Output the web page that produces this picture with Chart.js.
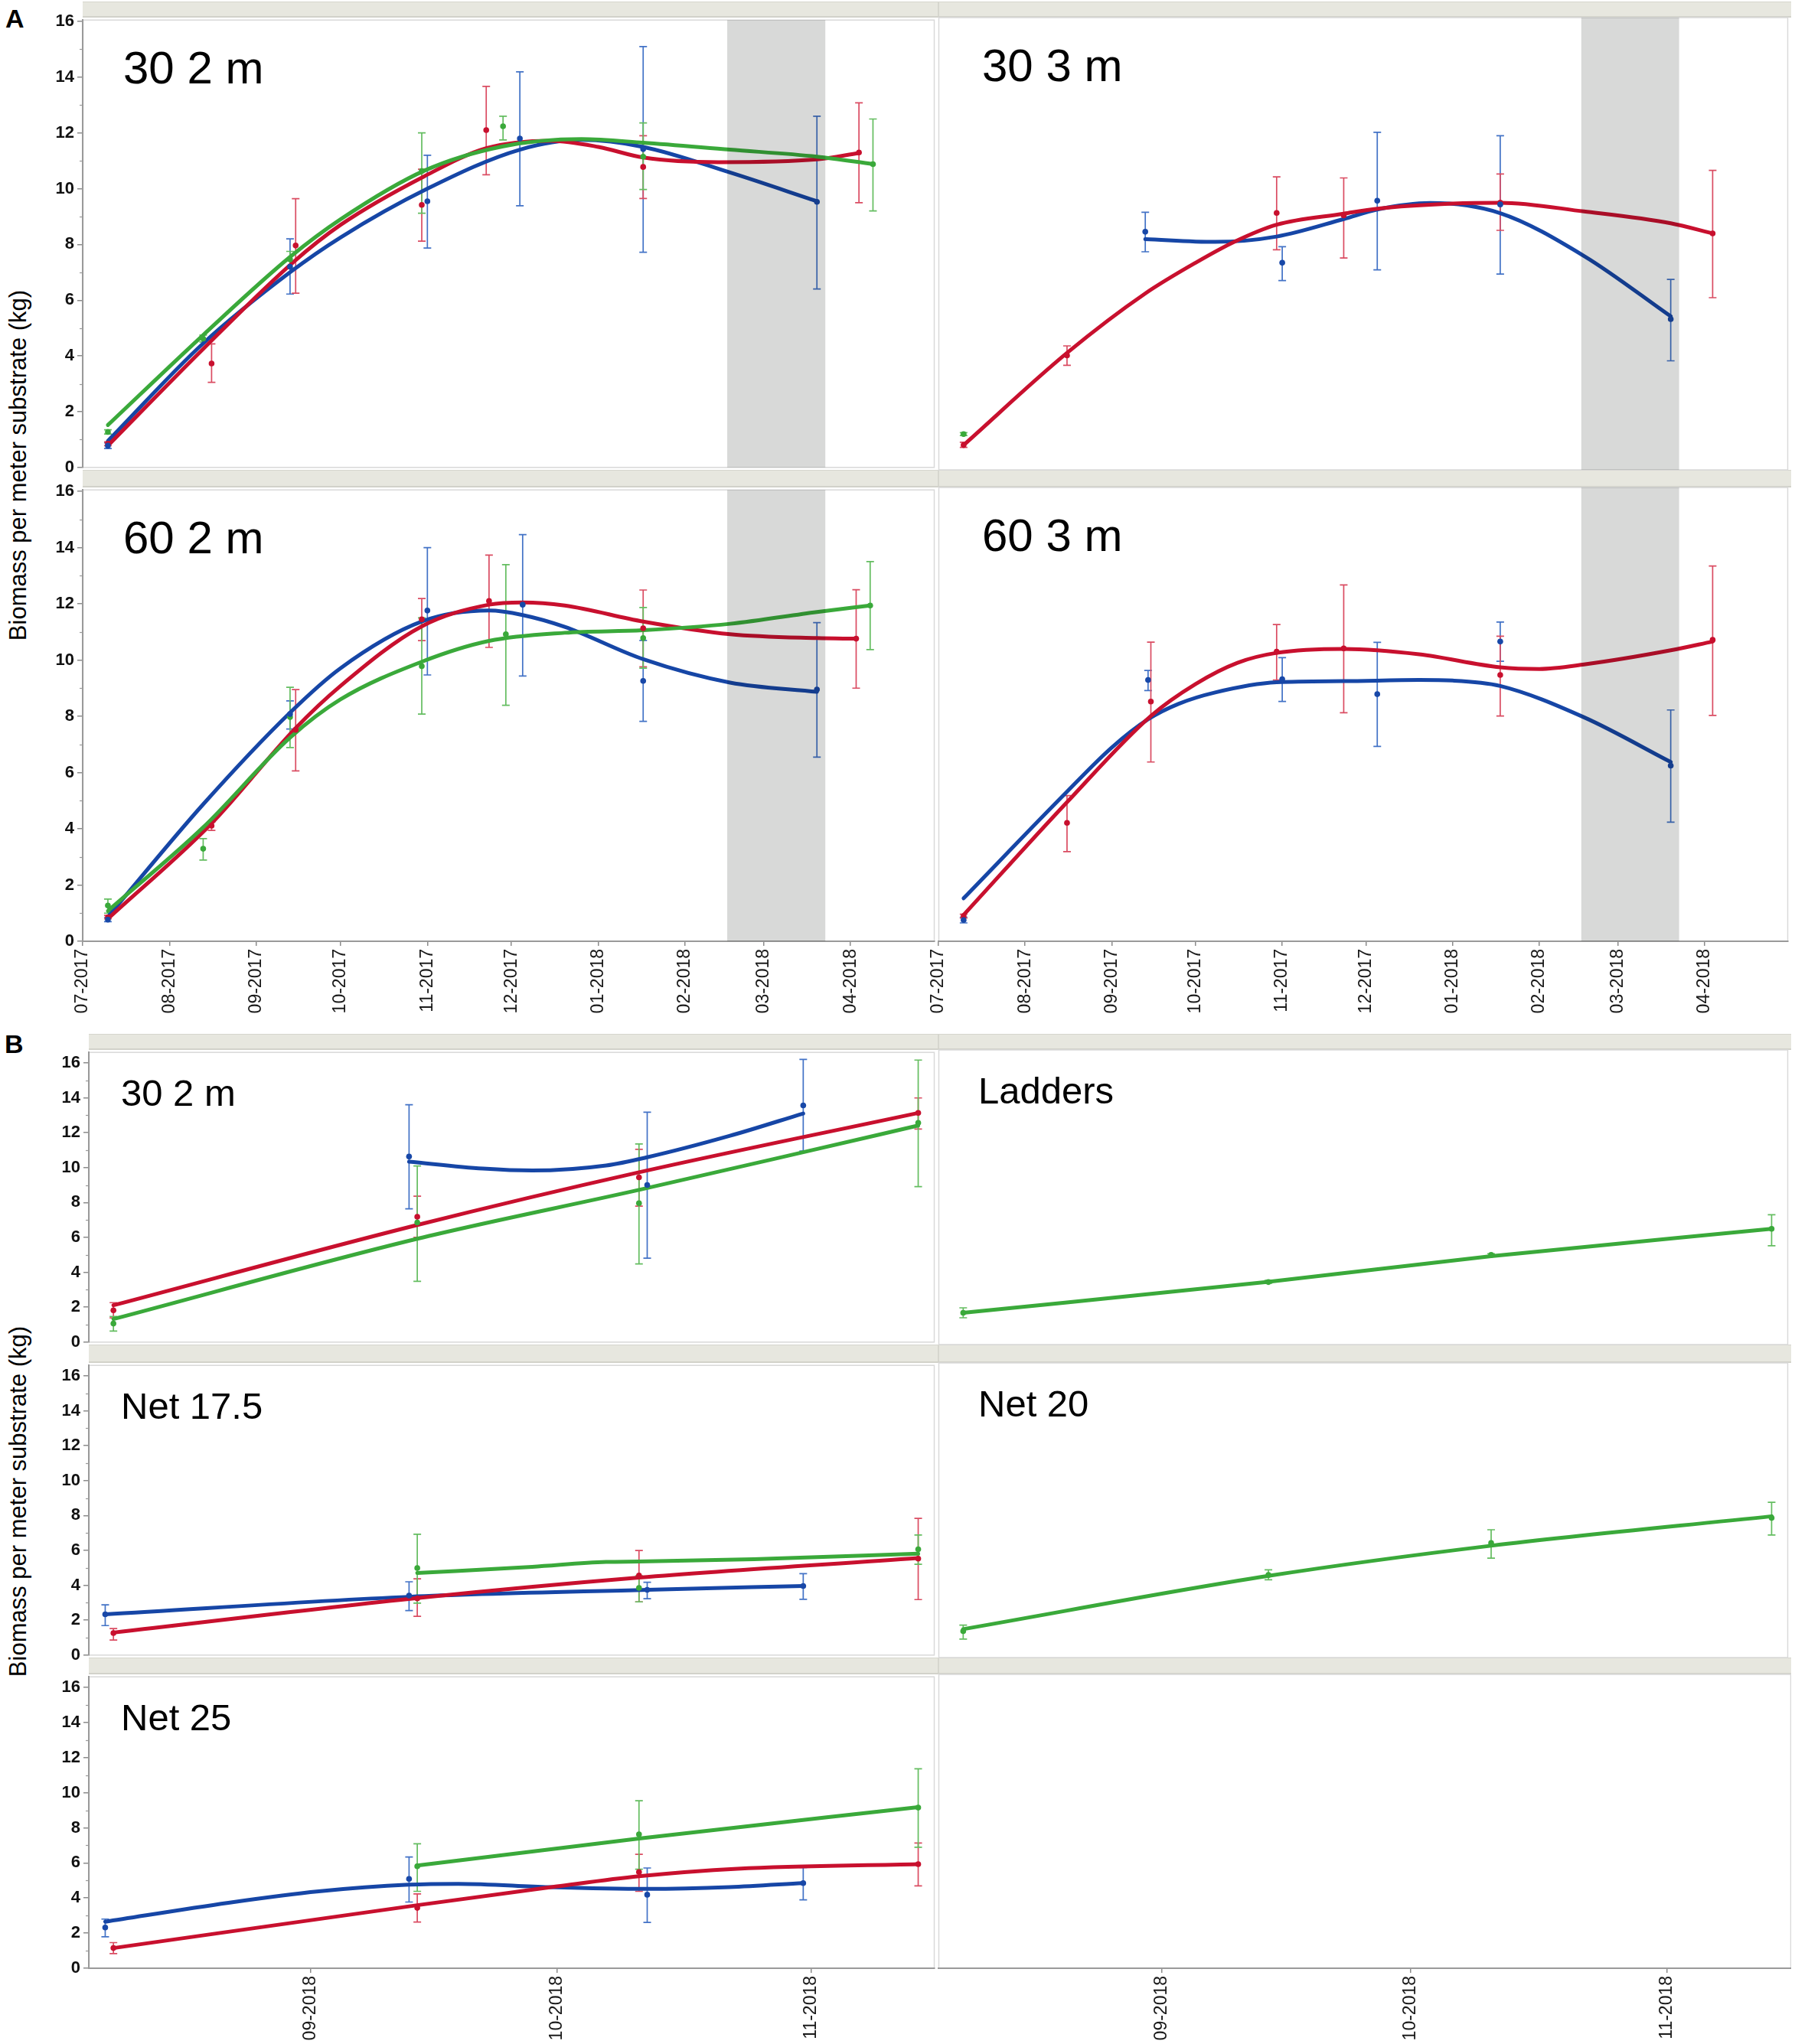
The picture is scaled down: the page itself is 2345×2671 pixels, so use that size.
<!DOCTYPE html>
<html>
<head>
<meta charset="utf-8">
<script src="https://cdn.jsdelivr.net/npm/chart.js@4.4.1/dist/chart.umd.min.js"></script>
<style>
  body { margin: 0; background: #fff; }
  #page { position: relative; width: 2345px; height: 2671px; overflow: hidden; background: #fff; font-family: 'Liberation Sans', Arial, sans-serif; }
  canvas { position: absolute; }
  .strip { position: absolute; background: #e7e7df; border-top: 1px solid #d6d6ce; border-bottom: 2px solid #d2d2ca; box-sizing: border-box; }
  .strip .cut { position: absolute; left: 0; top: 0; bottom: 0; width: 2px; background: #d6d6ce; }
  .letter { position: absolute; font-weight: bold; font-size: 34px; line-height: 1; color: #000; }
  .ytitle { position: absolute; width: 700px; height: 36px; line-height: 36px; font-size: 31px; text-align: center; color: #000; transform: rotate(-90deg); }
</style>
</head>
<body>
<div id="page">
  <div class="letter" style="left:7px;top:7px;">A</div>
  <div class="letter" style="left:6px;top:1347px;">B</div>
  <div class="ytitle" style="left:-326px;top:590px;">Biomass per meter substrate (kg)</div>
  <div class="ytitle" style="left:-326px;top:1944px;">Biomass per meter substrate (kg)</div>
</div>
<script>
const DAY = 86400000;
const dayNum = s => Date.parse(s) / DAY;

// axis ticks and ranges
const yTicks = [0, 2, 4, 6, 8, 10, 12, 14, 16];
const yMinorTicks = [1, 3, 5, 7, 9, 11, 13, 15];
const tickDatesA = ['2017-07-01', '2017-08-01', '2017-09-01', '2017-10-01', '2017-11-01', '2017-12-01', '2018-01-01', '2018-02-01', '2018-03-01', '2018-04-01'];
const tickLabelsA = ['07-2017', '08-2017', '09-2017', '10-2017', '11-2017', '12-2017', '01-2018', '02-2018', '03-2018', '04-2018'];
const tickDatesB = ['2018-09-01', '2018-10-01', '2018-11-01'];
const tickLabelsB = ['09-2018', '10-2018', '11-2018'];
const rangeA = ['2017-07-01', '2018-05-01'];
const rangeB = ['2018-08-05', '2018-11-16'];
const bandA = ['2018-02-16', '2018-03-23'];
const titlesA = ['30 2 m', '30 3 m', '60 2 m', '60 3 m'];
const titlesB = ['30 2 m', 'Ladders', 'Net 17.5', 'Net 20', 'Net 25', ''];

// points: [date, mean, lower, upper]; fits: [date, fitted value]
// A: 30 2 m
const A302_blue = [['2017-07-10', 0.78, 0.68, 0.88], ['2017-09-13', 7.2, 6.22, 8.2], ['2017-11-01', 9.55, 7.87, 11.2], ['2017-12-04', 11.8, 9.39, 14.19], ['2018-01-17', 11.42, 7.72, 15.1], ['2018-03-20', 9.53, 6.4, 12.6]];
const A302_red = [['2017-07-10', 0.85, 0.78, 0.92], ['2017-08-16', 3.73, 3.05, 4.43], ['2017-09-15', 7.96, 6.25, 9.64], ['2017-10-30', 9.42, 8.12, 10.7], ['2017-11-22', 12.1, 10.5, 13.67], ['2018-01-17', 10.78, 9.65, 11.9], ['2018-04-04', 11.3, 9.5, 13.08]];
const A302_green = [['2017-07-10', 1.27, 1.2, 1.35], ['2017-08-13', 4.62, 4.5, 4.75], ['2017-09-13', 7.46, 7.15, 7.75], ['2017-10-30', 10.63, 9.12, 12.0], ['2017-11-28', 12.24, 11.75, 12.6], ['2018-01-17', 11.15, 9.97, 12.36], ['2018-04-09', 10.88, 9.2, 12.5]];
const A302_blueFit = [['2017-07-10', 0.95], ['2017-08-13', 4.45], ['2017-09-13', 7.0], ['2017-10-01', 8.25], ['2017-11-01', 10.0], ['2017-12-04', 11.4], ['2017-12-26', 11.75], ['2018-01-17', 11.5], ['2018-02-17', 10.58], ['2018-03-20', 9.55]];
const A302_redFit = [['2017-07-10', 0.78], ['2017-08-13', 4.25], ['2017-09-14', 7.35], ['2017-10-01', 8.7], ['2017-10-31', 10.45], ['2017-11-22', 11.45], ['2017-12-15', 11.72], ['2018-01-01', 11.5], ['2018-01-17', 11.12], ['2018-02-13', 10.95], ['2018-03-20', 11.05], ['2018-04-04', 11.28]];
const A302_greenFit = [['2017-07-10', 1.52], ['2017-08-13', 4.75], ['2017-09-13', 7.55], ['2017-10-01', 8.9], ['2017-10-31', 10.65], ['2017-11-28', 11.52], ['2017-12-26', 11.78], ['2018-01-17', 11.65], ['2018-02-17', 11.4], ['2018-03-20', 11.15], ['2018-04-09', 10.88]];

// A: 30 3 m
const A303_blue = [['2017-09-13', 8.45, 7.74, 9.14], ['2017-11-01', 7.35, 6.72, 7.92], ['2017-12-05', 9.55, 7.1, 11.98], ['2018-01-18', 9.42, 6.95, 11.86], ['2018-03-20', 5.35, 3.87, 6.76]];
const A303_red = [['2017-07-10', 0.88, 0.8, 0.98], ['2017-08-16', 4.06, 3.71, 4.4], ['2017-10-30', 9.12, 7.81, 10.4], ['2017-11-23', 9.03, 7.52, 10.36], ['2018-01-18', 9.48, 8.5, 10.5], ['2018-04-04', 8.39, 6.11, 10.63]];
const A303_green = [['2017-07-10', 1.27, 1.22, 1.32]];
const A303_blueFit = [['2017-09-13', 8.19], ['2017-10-08', 8.09], ['2017-10-30', 8.28], ['2017-11-23', 8.9], ['2017-12-05', 9.24], ['2017-12-24', 9.47], ['2018-01-18', 9.11], ['2018-02-17', 7.59], ['2018-03-20', 5.45]];
const A303_redFit = [['2017-07-10', 0.88], ['2017-08-16', 4.15], ['2017-09-13', 6.26], ['2017-10-01', 7.35], ['2017-10-15', 8.1], ['2017-10-30', 8.7], ['2017-11-23', 9.09], ['2017-12-05', 9.27], ['2018-01-01', 9.45], ['2018-01-18', 9.48], ['2018-02-17', 9.17], ['2018-03-20', 8.75], ['2018-04-04', 8.39]];

// A: 60 2 m
const A602_blue = [['2017-07-10', 0.77, 0.7, 0.85], ['2017-09-13', 8.08, 7.55, 8.55], ['2017-11-01', 11.76, 9.47, 14.0], ['2017-12-05', 11.97, 9.43, 14.46], ['2018-01-17', 9.26, 7.82, 10.7], ['2018-03-20', 8.95, 6.55, 11.33]];
const A602_red = [['2017-07-10', 0.85, 0.8, 0.92], ['2017-08-16', 4.11, 3.94, 4.24], ['2017-09-15', 7.52, 6.06, 8.95], ['2017-10-30', 11.45, 10.69, 12.19], ['2017-11-23', 12.1, 10.45, 13.73], ['2018-01-17', 11.13, 9.76, 12.49], ['2018-04-03', 10.76, 9.0, 12.5]];
const A602_green = [['2017-07-10', 1.27, 1.0, 1.5], ['2017-08-13', 3.29, 2.89, 3.65], ['2017-09-13', 7.97, 6.89, 9.03], ['2017-10-30', 9.78, 8.08, 11.5], ['2017-11-29', 10.92, 8.39, 13.39], ['2018-01-17', 10.78, 9.71, 11.87], ['2018-04-08', 11.94, 10.37, 13.5]];
const A602_blueFit = [['2017-07-10', 0.87], ['2017-08-13', 4.87], ['2017-09-13', 8.13], ['2017-10-01', 9.71], ['2017-10-30', 11.37], ['2017-11-23', 11.76], ['2017-12-05', 11.6], ['2017-12-20', 11.18], ['2018-01-17', 10.03], ['2018-02-17', 9.2], ['2018-03-20', 8.87]];
const A602_redFit = [['2017-07-10', 0.8], ['2017-08-16', 4.19], ['2017-09-15', 7.58], ['2017-10-01', 9.08], ['2017-10-30', 11.2], ['2017-11-23', 11.97], ['2017-12-05', 12.05], ['2017-12-20', 11.94], ['2018-01-17', 11.37], ['2018-02-17', 10.92], ['2018-03-20', 10.78], ['2018-04-03', 10.76]];
const A602_greenFit = [['2017-07-10', 1.08], ['2017-08-13', 4.05], ['2017-09-13', 7.24], ['2017-10-01', 8.6], ['2017-10-30', 9.94], ['2017-11-23', 10.68], ['2017-12-20', 10.97], ['2018-01-17', 11.06], ['2018-02-17', 11.29], ['2018-03-20', 11.71], ['2018-04-08', 11.94]];

// A: 60 3 m
const A603_blue = [['2017-07-10', 0.75, 0.65, 0.85], ['2017-09-14', 9.24, 8.87, 9.58], ['2017-11-01', 9.27, 8.48, 10.03], ['2017-12-05', 8.74, 6.89, 10.57], ['2018-01-18', 10.6, 9.9, 11.29], ['2018-03-20', 6.21, 4.21, 8.18]];
const A603_red = [['2017-07-10', 0.89, 0.82, 0.96], ['2017-08-16', 4.19, 3.17, 5.15], ['2017-09-15', 8.48, 6.34, 10.58], ['2017-10-30', 10.24, 9.24, 11.2], ['2017-11-23', 10.36, 8.08, 12.6], ['2018-01-18', 9.42, 7.97, 10.79], ['2018-04-04', 10.66, 7.99, 13.27]];
const A603_blueFit = [['2017-07-10', 1.52], ['2017-08-16', 5.29], ['2017-09-01', 6.85], ['2017-09-14', 7.85], ['2017-09-25', 8.4], ['2017-10-08', 8.8], ['2017-10-30', 9.16], ['2017-11-23', 9.2], ['2017-12-20', 9.24], ['2018-01-01', 9.22], ['2018-01-18', 9.03], ['2018-02-17', 7.92], ['2018-03-20', 6.34]];
const A603_redFit = [['2017-07-10', 0.93], ['2017-08-16', 4.92], ['2017-09-15', 7.97], ['2017-10-01', 9.1], ['2017-10-16', 9.85], ['2017-10-30', 10.2], ['2017-11-23', 10.34], ['2017-12-20', 10.15], ['2018-01-18', 9.69], ['2018-02-01', 9.63], ['2018-02-17', 9.79], ['2018-03-20', 10.29], ['2018-04-04', 10.6]];

// B: 30 2 m
const B302_blue = [['2018-09-13', 10.63, 7.64, 13.6], ['2018-10-12', 9.0, 4.81, 13.17], ['2018-10-31', 13.56, 10.95, 16.2]];
const B302_red = [['2018-08-08', 1.82, 1.39, 2.26], ['2018-09-14', 7.18, 6.0, 8.36], ['2018-10-11', 9.44, 7.79, 11.05], ['2018-11-14', 13.13, 12.21, 13.99]];
const B302_green = [['2018-08-08', 1.06, 0.63, 1.47], ['2018-09-14', 6.85, 3.48, 10.09], ['2018-10-11', 7.96, 4.48, 11.35], ['2018-11-14', 12.56, 8.91, 16.16]];
const B302_blueFit = [['2018-09-13', 10.34], ['2018-09-22', 9.94], ['2018-09-28', 9.83], ['2018-10-07', 10.12], ['2018-10-12', 10.59], ['2018-10-22', 11.81], ['2018-10-31', 13.1]];
const B302_redFit = [['2018-08-08', 2.11], ['2018-09-14', 6.71], ['2018-10-11', 9.73], ['2018-11-14', 13.13]];
const B302_greenFit = [['2018-08-08', 1.32], ['2018-09-14', 5.92], ['2018-10-11', 8.72], ['2018-10-31', 10.88], ['2018-11-14', 12.41]];

// B: Ladders
const BLad_green = [['2018-08-08', 1.79, 1.51, 2.07], ['2018-09-14', 3.52, 3.45, 3.62], ['2018-10-11', 5.05, 4.98, 5.12], ['2018-11-14', 6.52, 5.57, 7.31]];
const BLad_greenFit = [['2018-08-08', 1.79], ['2018-09-14', 3.54], ['2018-10-11', 4.98], ['2018-11-14', 6.52]];

// B: Net 17.5
const BN175_blue = [['2018-08-07', 2.34, 1.69, 2.88], ['2018-09-13', 3.41, 2.55, 4.2], ['2018-10-12', 3.74, 3.23, 4.17], ['2018-10-31', 3.96, 3.2, 4.67]];
const BN175_red = [['2018-08-08', 1.26, 0.86, 1.52], ['2018-09-14', 3.25, 2.22, 4.37], ['2018-10-11', 4.56, 3.05, 5.99], ['2018-11-14', 5.53, 3.18, 7.83]];
const BN175_green = [['2018-09-14', 4.99, 2.98, 6.92], ['2018-10-11', 3.85, 3.05, 4.55], ['2018-11-14', 6.06, 5.2, 6.88]];
const BN175_blueFit = [['2018-08-07', 2.34], ['2018-09-13', 3.34], ['2018-10-12', 3.74], ['2018-10-31', 3.96]];
const BN175_redFit = [['2018-08-08', 1.29], ['2018-09-14', 3.27], ['2018-10-11', 4.44], ['2018-11-14', 5.56]];
const BN175_greenFit = [['2018-09-14', 4.7], ['2018-09-28', 5.06], ['2018-10-07', 5.34], ['2018-10-11', 5.36], ['2018-10-25', 5.49], ['2018-11-14', 5.81]];

// B: Net 20
const BN20_green = [['2018-08-08', 1.49, 1.04, 1.83], ['2018-09-14', 4.65, 4.38, 4.94], ['2018-10-11', 6.45, 5.6, 7.2], ['2018-11-14', 7.87, 6.9, 8.75]];
const BN20_greenFit = [['2018-08-08', 1.6], ['2018-09-14', 4.6], ['2018-10-11', 6.3], ['2018-11-14', 7.96]];

// B: Net 25
const BN25_blue = [['2018-08-07', 2.32, 1.79, 2.8], ['2018-09-13', 5.09, 3.77, 6.34], ['2018-10-12', 4.19, 2.61, 5.71], ['2018-10-31', 4.85, 3.9, 5.74]];
const BN25_red = [['2018-08-08', 1.15, 0.83, 1.46], ['2018-09-14', 3.44, 2.63, 4.23], ['2018-10-11', 5.48, 4.38, 6.49], ['2018-11-14', 5.93, 4.69, 7.13]];
const BN25_green = [['2018-09-14', 5.81, 4.38, 7.09], ['2018-10-11', 7.63, 5.64, 9.54], ['2018-11-14', 9.15, 6.89, 11.36]];
const BN25_blueFit = [['2018-08-07', 2.65], ['2018-08-22', 3.73], ['2018-09-02', 4.38], ['2018-09-13', 4.76], ['2018-09-19', 4.81], ['2018-09-30', 4.62], ['2018-10-12', 4.52], ['2018-10-22', 4.62], ['2018-10-31', 4.85]];
const BN25_redFit = [['2018-08-08', 1.15], ['2018-09-14', 3.59], ['2018-10-01', 4.66], ['2018-10-11', 5.24], ['2018-10-23', 5.67], ['2018-11-14', 5.93]];
const BN25_greenFit = [['2018-09-14', 5.85], ['2018-10-11', 7.39], ['2018-11-14', 9.18]];

const C = {
  blue:  { line: '#1646a6', dot: '#1848a8', err: '#4272c6' },
  red:   { line: '#c8102e', dot: '#c8102e', err: '#da4c62' },
  green: { line: '#3aa93a', dot: '#3aa93a', err: '#64bd60' }
};
const drawOrder = { green: 1, red: 2, blue: 3 };
const FONT = "'Liberation Sans', Arial, sans-serif";

// panel geometry (pixels on the page)
const colsA = [[108, 1225], [1226, 2340]];
const colsB = [[116, 1225], [1226, 2340]];
const rowsA = [[23, 614], [637, 1230]];
const rowsB = [[1372, 1757], [1781, 2166], [2188, 2572]];

const panels = [
  { set: 'A', col: 0, row: 0, title: titlesA[0], series: [[A302_blue, A302_blueFit, 'blue'], [A302_red, A302_redFit, 'red'], [A302_green, A302_greenFit, 'green']] },
  { set: 'A', col: 1, row: 0, title: titlesA[1], series: [[A303_blue, A303_blueFit, 'blue'], [A303_red, A303_redFit, 'red'], [A303_green, null, 'green']] },
  { set: 'A', col: 0, row: 1, title: titlesA[2], series: [[A602_blue, A602_blueFit, 'blue'], [A602_red, A602_redFit, 'red'], [A602_green, A602_greenFit, 'green']] },
  { set: 'A', col: 1, row: 1, title: titlesA[3], series: [[A603_blue, A603_blueFit, 'blue'], [A603_red, A603_redFit, 'red']] },
  { set: 'B', col: 0, row: 0, title: titlesB[0], series: [[B302_blue, B302_blueFit, 'blue'], [B302_red, B302_redFit, 'red'], [B302_green, B302_greenFit, 'green']] },
  { set: 'B', col: 1, row: 0, title: titlesB[1], series: [[BLad_green, BLad_greenFit, 'green']] },
  { set: 'B', col: 0, row: 1, title: titlesB[2], series: [[BN175_blue, BN175_blueFit, 'blue'], [BN175_red, BN175_redFit, 'red'], [BN175_green, BN175_greenFit, 'green']] },
  { set: 'B', col: 1, row: 1, title: titlesB[3], series: [[BN20_green, BN20_greenFit, 'green']] },
  { set: 'B', col: 0, row: 2, title: titlesB[4], series: [[BN25_blue, BN25_blueFit, 'blue'], [BN25_red, BN25_redFit, 'red'], [BN25_green, BN25_greenFit, 'green']] },
  { set: 'B', col: 1, row: 2, title: titlesB[5], series: [] }
];

const page = document.getElementById('page');

// grey header strips above each row
const addStrip = (left, top, bottom) => {
  const s = document.createElement('div');
  s.className = 'strip';
  Object.assign(s.style, { left: left + 'px', top: top + 'px', width: (2340 - left) + 'px', height: (bottom - top) + 'px' });
  const cut = document.createElement('div');
  cut.className = 'cut';
  cut.style.left = (1225 - left) + 'px';
  s.appendChild(cut);
  page.appendChild(s);
};
addStrip(108, 2, 23);
addStrip(108, 614, 637);
addStrip(116, 1351, 1372);
addStrip(116, 1757, 1781);
addStrip(116, 2166, 2188);

const makeDatasets = (series) => {
  const out = [];
  series.forEach(([pts, fit, key]) => {
    const c = C[key];
    if (fit) {
      out.push({
        type: 'line',
        data: fit.map(([d, v]) => ({ x: dayNum(d), y: v })),
        borderColor: c.line,
        borderWidth: 5,
        pointRadius: 0,
        cubicInterpolationMode: 'monotone',
        borderCapStyle: 'round',
        fill: false,
        order: drawOrder[key]
      });
    }
    out.push({
      type: 'scatter',
      data: pts.map(([d, v]) => ({ x: dayNum(d), y: v })),
      errors: pts.map(p => [p[2], p[3]]),
      errColor: c.err,
      backgroundColor: c.dot,
      borderWidth: 0,
      pointRadius: 3.8,
      order: 0
    });
  });
  return out;
};

const makeChart = (p) => {
  const isA = p.set === 'A';
  const [plotLeft, plotRight] = (isA ? colsA : colsB)[p.col];
  const [plotTop, plotBottom] = (isA ? rowsA : rowsB)[p.row];
  const lastRow = isA ? p.row === 1 : p.row === 2;
  const showY = p.col === 0;
  const padTop = 14;
  const padLeft = showY ? 0 : 20;
  const padBottom = lastRow ? 0 : 14;
  const xAxisH = isA ? 115 : 99;
  const yAxisW = plotLeft;

  const canvasLeft = showY ? 0 : plotLeft - padLeft;
  const canvasTop = plotTop - padTop;
  const width = plotRight - canvasLeft;
  const height = padTop + (plotBottom - plotTop) + (lastRow ? xAxisH : padBottom);

  const cv = document.createElement('canvas');
  cv.width = width;
  cv.height = height;
  Object.assign(cv.style, { left: canvasLeft + 'px', top: canvasTop + 'px', width: width + 'px', height: height + 'px' });
  page.appendChild(cv);

  const range = isA ? rangeA : rangeB;
  const tickDates = isA ? tickDatesA : tickDatesB;
  const tickLabels = isA ? tickLabelsA : tickLabelsB;

  const decor = {
    id: 'decor',
    beforeDraw(chart) {
      const { ctx, chartArea: a } = chart;
      ctx.save();
      ctx.strokeStyle = '#d9d9d9';
      ctx.lineWidth = 1.5;
      ctx.strokeRect(a.left + 0.5, a.top, a.right - a.left - 1, a.bottom - a.top);
      ctx.restore();
    },
    beforeDatasetsDraw(chart) {
      // error bars, under the curves and points
      const { ctx, scales: { x, y } } = chart;
      ctx.save();
      ctx.lineWidth = 1.7;
      chart.data.datasets.forEach(ds => {
        if (!ds.errors) return;
        ctx.strokeStyle = ds.errColor;
        ds.data.forEach((pt, i) => {
          const px = x.getPixelForValue(pt.x);
          const y0 = y.getPixelForValue(ds.errors[i][0]);
          const y1 = y.getPixelForValue(ds.errors[i][1]);
          ctx.beginPath();
          ctx.moveTo(px, y0); ctx.lineTo(px, y1);
          ctx.moveTo(px - 5, y0); ctx.lineTo(px + 5, y0);
          ctx.moveTo(px - 5, y1); ctx.lineTo(px + 5, y1);
          ctx.stroke();
        });
      });
      ctx.restore();
    },
    afterDatasetsDraw(chart) {
      if (!isA) return;
      const { ctx, chartArea: a, scales: { x } } = chart;
      const x0 = x.getPixelForValue(dayNum(bandA[0]));
      const x1 = x.getPixelForValue(dayNum(bandA[1]));
      ctx.save();
      ctx.globalCompositeOperation = 'multiply';
      ctx.fillStyle = '#d8d9d8';
      ctx.fillRect(x0, a.top, x1 - x0, a.bottom - a.top);
      ctx.restore();
    },
    afterDraw(chart) {
      const { ctx, chartArea: a, scales: { y } } = chart;
      ctx.save();
      if (showY) {
        ctx.strokeStyle = '#9a9a9a';
        ctx.lineWidth = 1.2;
        yMinorTicks.forEach(v => {
          const py = Math.round(y.getPixelForValue(v)) + 0.5;
          ctx.beginPath();
          ctx.moveTo(a.left - 4, py);
          ctx.lineTo(a.left, py);
          ctx.stroke();
        });
      }
      if (p.title) {
        ctx.fillStyle = '#000';
        ctx.textBaseline = 'alphabetic';
        ctx.font = (isA ? 60 : 49) + 'px ' + FONT;
        const ox = isA ? (p.col === 0 ? 53 : 57) : (p.col === 0 ? 42 : 52);
        ctx.fillText(p.title, a.left + ox, a.top + (isA ? 83 : 70));
      }
      ctx.restore();
    }
  };

  return new Chart(cv, {
    type: 'scatter',
    data: { datasets: makeDatasets(p.series) },
    options: {
      responsive: false,
      animation: false,
      events: [],
      layout: { padding: { top: padTop, bottom: padBottom, left: padLeft, right: 0 } },
      plugins: { legend: { display: false }, tooltip: { enabled: false } },
      scales: {
        x: {
          type: 'linear',
          min: dayNum(range[0]),
          max: dayNum(range[1]),
          display: lastRow,
          afterBuildTicks: s => { s.ticks = tickDates.map(d => ({ value: dayNum(d) })); },
          afterFit: s => { if (lastRow) s.height = xAxisH; },
          ticks: {
            autoSkip: false,
            minRotation: 90,
            maxRotation: 90,
            padding: 4,
            color: '#1a1a1a',
            font: { family: FONT, size: 23 },
            callback: (v, i) => tickLabels[i]
          },
          grid: { drawOnChartArea: false, drawTicks: true, tickLength: 6, color: '#8c8c8c', lineWidth: 1.5 },
          border: { display: true, color: '#9a9a9a', width: 2 }
        },
        y: {
          type: 'linear',
          min: 0,
          max: isA ? 16.05 : 16.6,
          display: showY,
          afterBuildTicks: s => { s.ticks = yTicks.map(v => ({ value: v })); },
          afterFit: s => { if (showY) s.width = yAxisW; },
          ticks: {
            padding: 4,
            color: '#111',
            font: { family: FONT, size: 22, weight: 'bold' },
            callback: v => String(v)
          },
          grid: { drawOnChartArea: false, drawTicks: true, tickLength: 7, color: '#8c8c8c', lineWidth: 1.5 },
          border: { display: true, color: '#9a9a9a', width: 2 }
        }
      }
    },
    plugins: [decor]
  });
};

panels.forEach(makeChart);
</script>
</body>
</html>
